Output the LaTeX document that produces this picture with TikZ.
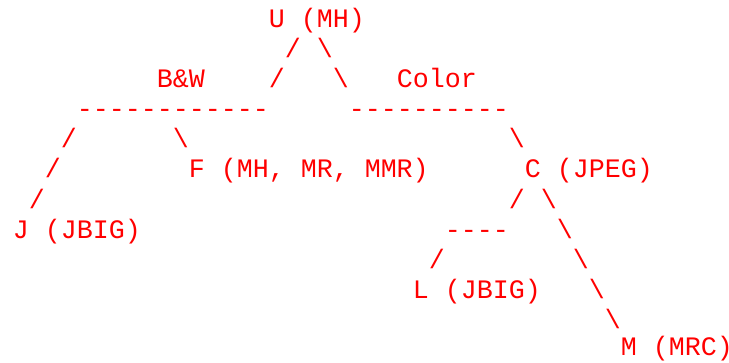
\documentclass[tikz,border=0pt]{standalone}
\usepackage{fontspec}
\newfontfamily\asciimono{Liberation Mono}[Ligatures=TeXOff]
\tikzset{art/.style={text=red, font=\asciimono\fontsize{26.66pt}{30pt}\selectfont, anchor=base west, inner sep=0pt, outer sep=0pt}}
\newcommand\asciicell[4]{\node[art] (#1) at ({12.8+16*#2},{27+30.18*#3}) {#4};}
\begin{document}
\begin{tikzpicture}[x=1pt,y=-1pt]
\useasboundingbox (0,0) rectangle (729,362);
% row 0
\asciicell{u}{16}{0}{U (MH)}
% row 1
\asciicell{ul1}{17}{1}{/}
\asciicell{ur1}{19}{1}{\textbackslash}
% row 2
\asciicell{bw}{9}{2}{B\&W}
\asciicell{ul2}{16}{2}{/}
\asciicell{ur2}{20}{2}{\textbackslash}
\asciicell{color}{24}{2}{Color}
% row 3
\asciicell{barbw}{4}{3}{------------}
\asciicell{barcol}{21}{3}{----------}
% row 4
\asciicell{jl4}{3}{4}{/}
\asciicell{fr4}{10}{4}{\textbackslash}
\asciicell{cr4}{31}{4}{\textbackslash}
% row 5
\asciicell{jl5}{2}{5}{/}
\asciicell{f}{11}{5}{F (MH, MR, MMR)}
\asciicell{c}{32}{5}{C (JPEG)}
% row 6
\asciicell{jl6}{1}{6}{/}
\asciicell{cl6}{31}{6}{/}
\asciicell{cr6}{33}{6}{\textbackslash}
% row 7
\asciicell{j}{0}{7}{J (JBIG)}
\asciicell{barc}{27}{7}{----}
\asciicell{mr7}{34}{7}{\textbackslash}
% row 8
\asciicell{ll8}{26}{8}{/}
\asciicell{mr8}{35}{8}{\textbackslash}
% row 9
\asciicell{l}{25}{9}{L (JBIG)}
\asciicell{mr9}{36}{9}{\textbackslash}
% row 10
\asciicell{mr10}{37}{10}{\textbackslash}
% row 11 (last line, kept inside the frame)
\node[art] (m) at ({12.8+16*38},355) {M (MRC\rlap{)}};
\end{tikzpicture}
\end{document}
